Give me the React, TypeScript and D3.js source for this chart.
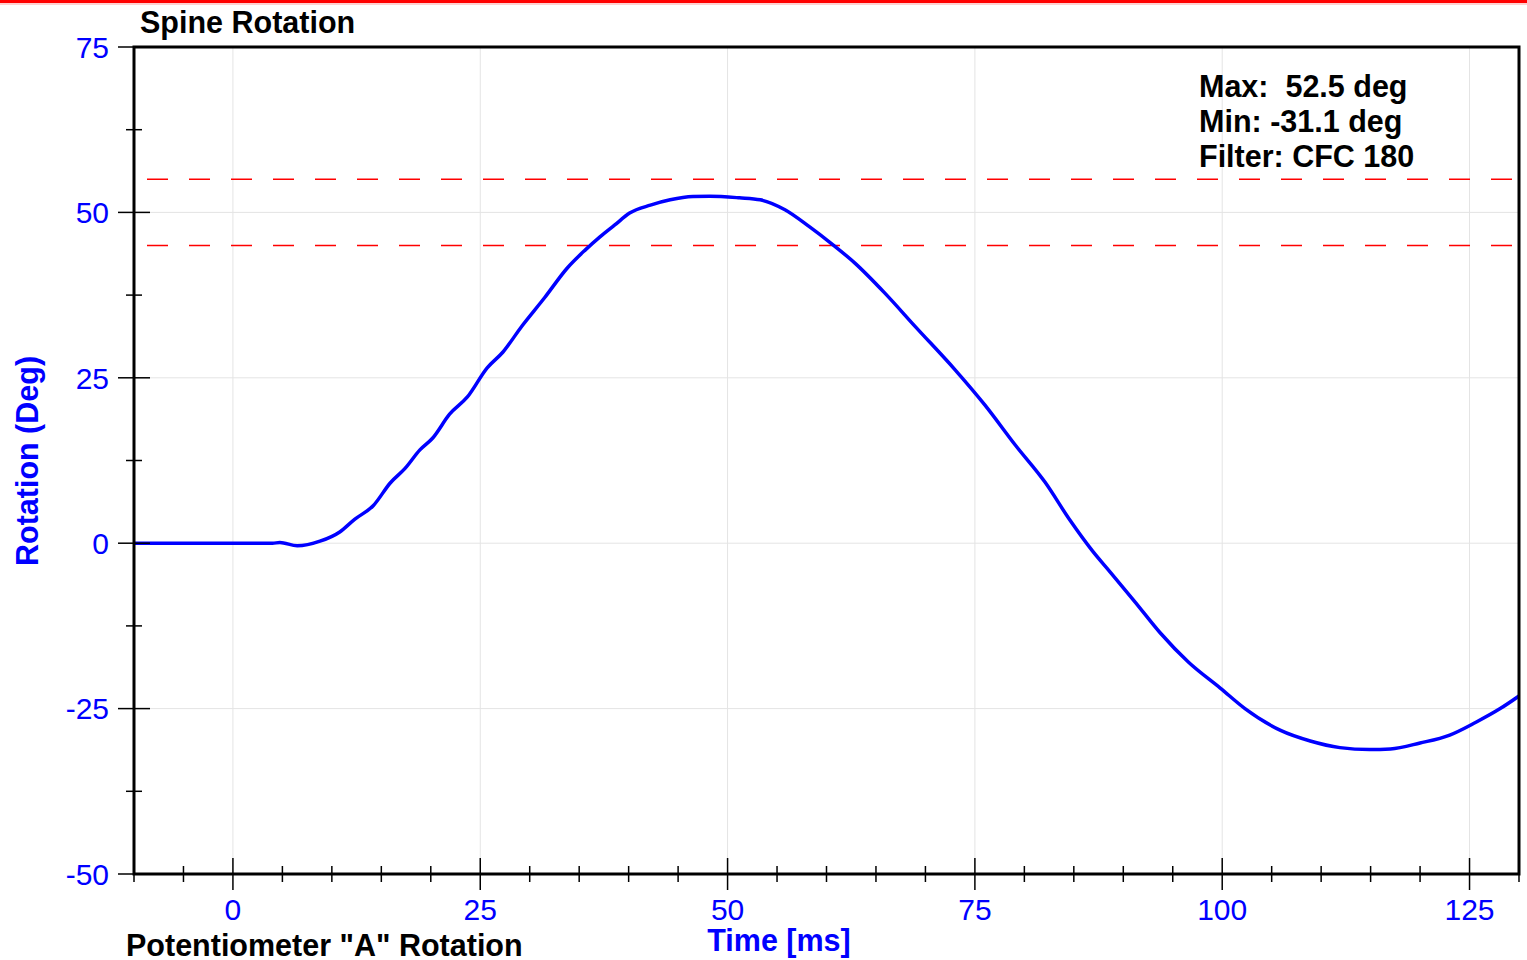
import React from "react";
import * as d3 from "d3";

const timeMs = [-10, 0, 4, 4.75, 6.5, 8.8, 10.8, 12.3, 14.2, 15.9, 17.4, 18.9, 20.2, 21.9, 23.7, 25.7, 27.3, 29.2, 31.5, 33.8, 35.6, 37.1, 38.6, 40.1, 42.2, 44.2, 46.5, 48.2, 51.2, 53.3, 55.8, 58.3, 60.4, 62.9, 65.9, 69.0, 73.0, 76.0, 79.1, 82.1, 84.6, 86.9, 88.7, 91.2, 93.7, 96.6, 99.8, 102.3, 105.9, 108.9, 111.9, 114.9, 117.0, 120.0, 123.0, 125.6, 128.1, 130.0];
const rotationDeg = [0, 0, 0, 0.1, -0.4, 0.3, 1.7, 3.6, 5.7, 9.1, 11.3, 14.1, 15.9, 19.5, 22.1, 26.5, 28.9, 32.8, 37.1, 41.6, 44.3, 46.3, 48.1, 49.9, 51.1, 51.9, 52.4, 52.45, 52.2, 51.9, 50.4, 47.8, 45.4, 42.3, 37.8, 32.7, 26.2, 20.9, 14.8, 9.2, 3.5, -1.2, -4.4, -8.9, -13.5, -18.0, -21.9, -25.0, -28.3, -29.9, -30.9, -31.2, -31.1, -30.2, -29.0, -27.1, -25.0, -23.1];

const xMajorTicks = [0, 25, 50, 75, 100, 125];
const xMinorTicks = d3.range(-10, 131, 5);
const yMajorTicks = [-50, -25, 0, 25, 50, 75];
const yMinorTicks = [-37.5, -12.5, 12.5, 37.5, 62.5];
const limitLines = [55, 45];
const statLines = ["Max:  52.5 deg", "Min: -31.1 deg", "Filter: CFC 180"];

const W = 1527, H = 960;
const L = 134, R = 1519, T = 47, B = 874;
const FONT = "'Liberation Sans', Arial, sans-serif";

export default function App() {
  const x = d3.scaleLinear().domain([-10, 130]).range([L, R]);
  const y = d3.scaleLinear().domain([-50, 75]).range([B, T]);
  const line = d3
    .line<number>()
    .x((_, i) => x(timeMs[i]))
    .y((d) => y(d))
    .curve(d3.curveMonotoneX);
  const path = line(rotationDeg) || "";

  return (
    <svg
      width={W}
      height={H}
      style={{ position: "absolute", left: 0, top: 0, background: "#fff" }}
      fontFamily={FONT}
    >
      <rect x={0} y={0} width={W} height={H} fill="#fff" />
      <rect x={0} y={3} width={W} height={2} fill="#ffd0d0" />
      <rect x={0} y={0} width={W} height={3} fill="#ff0000" />

      {/* grid */}
      {xMajorTicks.map((t) => (
        <line key={"gx" + t} x1={x(t)} x2={x(t)} y1={T} y2={B} stroke="#e4e4e4" strokeWidth={1} />
      ))}
      {yMajorTicks.map((t) => (
        <line key={"gy" + t} x1={L} x2={R} y1={y(t)} y2={y(t)} stroke="#e4e4e4" strokeWidth={1} />
      ))}

      {/* limit lines */}
      {limitLines.map((v) => (
        <path
          key={"lim" + v}
          d={`M${L + 13},${y(v)}H${R}`}
          fill="none"
          stroke="rgb(255,0,0)"
          strokeWidth={1.5}
          strokeDasharray="21,21"
        />
      ))}

      {/* data */}
      <defs>
        <clipPath id="plotClip">
          <rect x={L} y={T} width={R - L} height={B - T} />
        </clipPath>
      </defs>
      <path d={path} fill="none" stroke="#0000ff" strokeWidth={3.5} clipPath="url(#plotClip)" strokeLinejoin="round" />

      {/* frame */}
      <rect x={L} y={T} width={R - L} height={B - T} fill="none" stroke="#000" strokeWidth={3} />

      {/* y ticks */}
      {yMajorTicks.map((t) => (
        <g key={"yt" + t}>
          <line x1={L - 16} x2={t === 75 || t === -50 ? L : L + 16} y1={y(t)} y2={y(t)} stroke="#000" strokeWidth={1.5} />
          <text x={L - 25} y={y(t)} dy="0.36em" textAnchor="end" fontSize={30} fill="#0000ff">
            {t}
          </text>
        </g>
      ))}
      {yMinorTicks.map((t) => (
        <line key={"ym" + t} x1={L - 8} x2={L + 8} y1={y(t)} y2={y(t)} stroke="#000" strokeWidth={1.5} />
      ))}

      {/* x ticks */}
      {xMinorTicks.map((t) => {
        const major = xMajorTicks.includes(t);
        return (
          <line
            key={"xm" + t}
            x1={x(t)}
            x2={x(t)}
            y1={major ? B - 16 : B - 8}
            y2={major ? B + 16 : B + 8}
            stroke="#000"
            strokeWidth={1.5}
          />
        );
      })}
      {xMajorTicks.map((t) => (
        <text key={"xt" + t} x={x(t)} y={920} textAnchor="middle" fontSize={30} fill="#0000ff">
          {t}
        </text>
      ))}

      {/* titles */}
      <text x={140} y={33} fontSize={30.5} fontWeight="bold" fill="#000">
        Spine Rotation
      </text>
      <text x={126} y={956} fontSize={30.5} fontWeight="bold" fill="#000">
        Potentiometer "A" Rotation
      </text>
      <text x={779} y={951} textAnchor="middle" fontSize={30.5} fontWeight="bold" fill="#0000ff">
        Time [ms]
      </text>
      <text
        transform={`translate(38, ${461}) rotate(-90)`}
        textAnchor="middle"
        fontSize={30.5}
        fontWeight="bold"
        fill="#0000ff"
      >
        Rotation (Deg)
      </text>

      {/* stats */}
      {statLines.map((s, i) => (
        <text key={s} x={1199} y={97 + i * 35} fontSize={30.5} fontWeight="bold" fill="#000" xmlSpace="preserve" style={{ whiteSpace: "pre" }}>
          {s}
        </text>
      ))}
    </svg>
  );
}
